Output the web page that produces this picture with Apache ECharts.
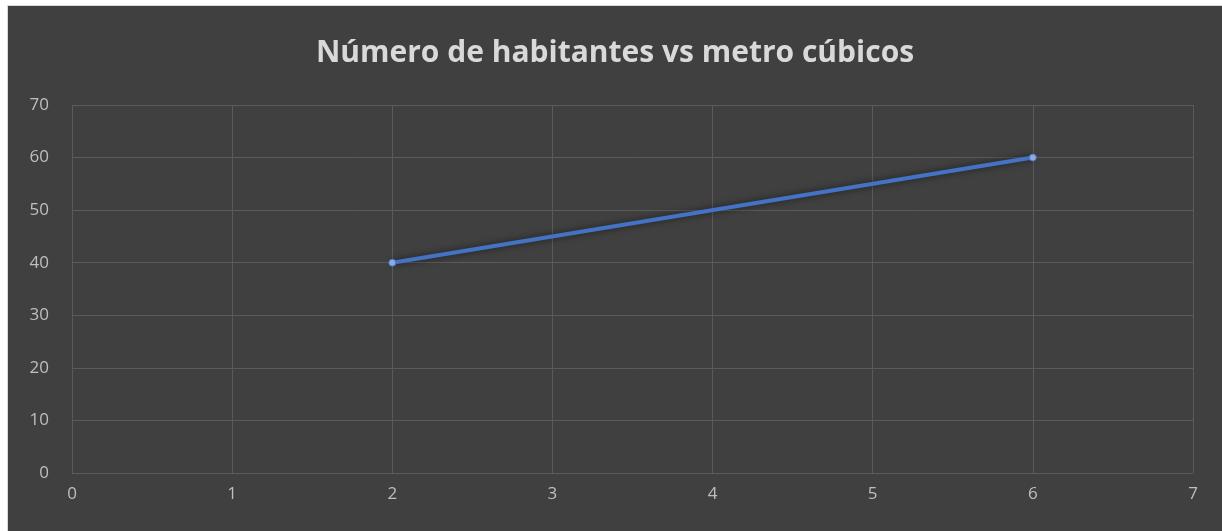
<!DOCTYPE html>
<html>
<head>
<meta charset="utf-8">
<script src="https://cdn.jsdelivr.net/npm/echarts@6/dist/echarts.min.js"></script>
<style>
    html, body { margin: 0; padding: 0; background: #ffffff; }
    .chart {
        position: absolute;
        left: 7px;
        top: 5px;
        width: 1215px;
        height: 526px;
        background: #404040;
        border-left: 1px solid #d9d9d9;
        border-top: 1px solid #d9d9d9;
        box-sizing: border-box;
    }
</style>
</head>
<body>
<div id="chart" class="chart"></div>
<script>
// datos
const xValues = [2, 6];
const yValues = [40, 60];
const titleText = 'Número de habitantes vs metro cúbicos';

const chart = echarts.init(document.getElementById('chart'));

// eje por defecto
const axisBase = {
    type: 'value',
    axisLine: { show: false },
    axisTick: { show: false },
    axisLabel: { color: '#bfbfbf', fontSize: 17, fontFamily: 'Open Sans' },
    splitLine: { show: true, lineStyle: { color: '#5b5b5b', width: 1 } }
};

const option = {
    backgroundColor: 'transparent',
    title: {
        text: titleText,
        left: 'center',
        top: 27,
        textStyle: { color: '#d9d9d9', fontSize: 30, fontWeight: 'bold', fontFamily: 'Open Sans' }
    },
    grid: { left: 64, top: 99, right: 29, bottom: 58 },
    xAxis: Object.assign({}, axisBase, {
        min: 0, max: 7, interval: 1,
        axisLabel: Object.assign({}, axisBase.axisLabel, { margin: 13 })
    }),
    yAxis: Object.assign({}, axisBase, {
        min: 0, max: 70, interval: 10,
        axisLabel: Object.assign({}, axisBase.axisLabel, { margin: 23 })
    }),
    series: [{
        type: 'line',
        data: xValues.map((x, i) => [x, yValues[i]]),
        symbol: 'circle',
        symbolSize: 7,
        itemStyle: { color: '#8faadc', borderColor: '#4472c4', borderWidth: 1 },
        lineStyle: { color: '#4472c4', width: 4, shadowBlur: 7, shadowColor: 'rgba(0,0,0,0.6)' },
        z: 3
    }]
};

// mostrar
chart.setOption(option);
</script>
</body>
</html>
